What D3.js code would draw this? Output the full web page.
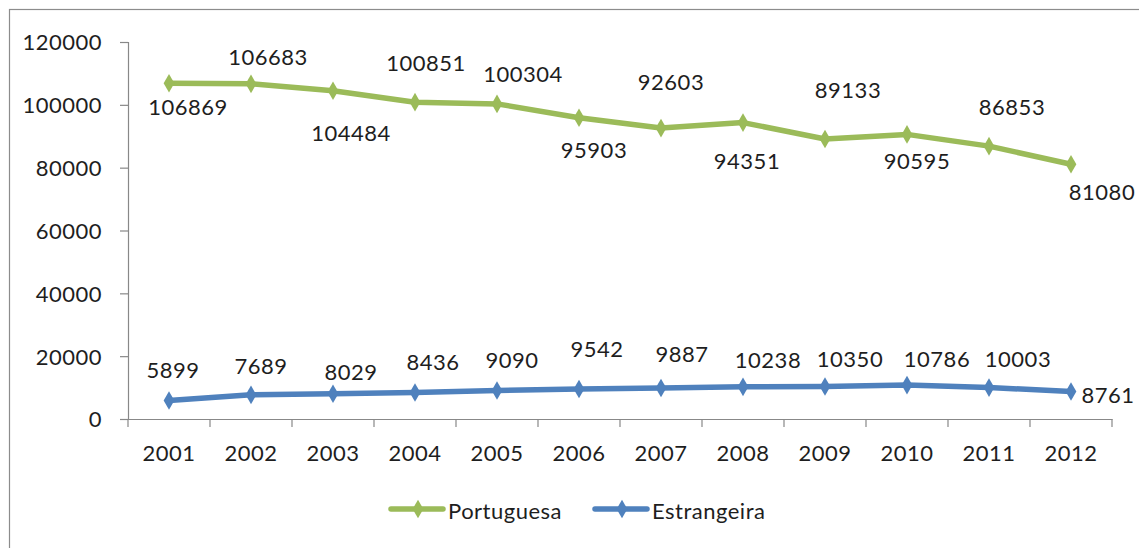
<!DOCTYPE html>
<html>
<head>
<meta charset="utf-8">
<script src="https://cdn.jsdelivr.net/npm/d3@7"></script>
<style>
  html, body { margin: 0; padding: 0; background: #fff; }
  svg { display: block; }
  text { font-family: Lato, "Open Sans", sans-serif; fill: #1e1e1e; letter-spacing: 0.5px; }
</style>
</head>
<body>
<svg id="chart" width="1139" height="548"></svg>
<script>
// ---- data ----
const years = ["2001","2002","2003","2004","2005","2006","2007","2008","2009","2010","2011","2012"];
const portuguesa = [106869,106683,104484,100851,100304,95903,92603,94351,89133,90595,86853,81080];
const estrangeira = [5899,7689,8029,8436,9090,9542,9887,10238,10350,10786,10003,8761];
const yTicks = [0,20000,40000,60000,80000,100000,120000];
const seriesNames = ["Portuguesa","Estrangeira"];

// ---- layout (label placement offsets, px) ----
const portLabelOffsets = [[19,24],[17,-27],[18,42],[11,-39],[26,-30],[15,32],[10,-46],[4,38],[23,-49],[10,27],[23,-39],[31,28]];
const estrLabelOffsets = [[4,-30],[10,-29],[18,-22],[18,-30],[15,-30],[18,-40],[21,-34],[25,-27],[25,-27],[30,-26],[29,-28],[37,4]];
const colors = ["#9BBB59","#4F81BD"];
const FS = 22;

const svg = d3.select("#chart");

// outer border
svg.append("rect").attr("x",9.5).attr("y",9.5).attr("width",1140).attr("height",545)
  .attr("fill","none").attr("stroke","#8c8c8c").attr("stroke-width",1.2);

const x = d3.scaleBand().domain(years).range([128,1112]).padding(0);
const y = d3.scaleLinear().domain([0,120000]).range([419,42]);
const cx = d => x(d) + x.bandwidth()/2;

// y axis
const yAxis = d3.axisLeft(y).tickValues(yTicks).tickSize(8).tickPadding(18).tickFormat(d3.format("d"));
const gy = svg.append("g").attr("transform","translate(128,0)").call(yAxis);
gy.select(".domain").attr("stroke","#888").attr("stroke-width",1.2);
gy.selectAll(".tick line").attr("stroke","#888").attr("stroke-width",1.2);
gy.selectAll(".tick text").attr("font-size",FS).attr("font-family","Lato, sans-serif").attr("fill","#1e1e1e").attr("dy","0.36em");

// x axis
const xAxis = d3.axisBottom(x).tickSize(0).tickPadding(0);
const gx = svg.append("g").attr("transform","translate(0,419)").call(xAxis);
gx.select(".domain").attr("stroke","#888").attr("stroke-width",1.2);
gx.selectAll(".tick text").attr("font-size",FS).attr("font-family","Lato, sans-serif").attr("fill","#1e1e1e")
  .attr("y",34).attr("dy","0.36em");
// category boundary ticks
const bounds = years.map(d => x(d)).concat([x(years[years.length-1]) + x.bandwidth()]);
gx.selectAll("line.bt").data(bounds).enter().append("line").attr("class","bt")
  .attr("x1",d=>d).attr("x2",d=>d).attr("y1",0).attr("y2",8)
  .attr("stroke","#888").attr("stroke-width",1.2);

const line = d3.line().x((d,i)=>cx(years[i])).y(d=>y(d));

function drawSeries(vals, color, offsets) {
  const g = svg.append("g");
  g.append("path").datum(vals).attr("d",line).attr("fill","none").attr("stroke",color)
    .attr("stroke-width",5.5).attr("stroke-linejoin","round").attr("stroke-linecap","round");
  g.selectAll("path.m").data(vals).enter().append("path").attr("class","m")
    .attr("d", d3.symbol().type(d3.symbolDiamond).size(100))
    .attr("transform",(d,i)=>`translate(${cx(years[i])},${y(d)})`)
    .attr("fill",color);
  g.selectAll("text").data(vals).enter().append("text")
    .attr("x",(d,i)=>cx(years[i]) + offsets[i][0])
    .attr("y",(d,i)=>y(d) + offsets[i][1])
    .attr("dy","0.36em").attr("text-anchor","middle").attr("font-size",FS)
    .text(d=>d);
}
drawSeries(portuguesa, colors[0], portLabelOffsets);
drawSeries(estrangeira, colors[1], estrLabelOffsets);

// legend
const legendItems = [{name:seriesNames[0],color:colors[0],x:391},{name:seriesNames[1],color:colors[1],x:595}];
const lg = svg.append("g");
legendItems.forEach(it => {
  lg.append("line").attr("x1",it.x).attr("x2",it.x+52).attr("y1",509).attr("y2",509)
    .attr("stroke",it.color).attr("stroke-width",5.5).attr("stroke-linecap","round");
  lg.append("path").attr("d", d3.symbol().type(d3.symbolDiamond).size(100))
    .attr("transform",`translate(${it.x+27},509)`).attr("fill",it.color);
  lg.append("text").attr("x",it.x+57).attr("y",511).attr("dy","0.36em").attr("font-size",FS).text(it.name);
});
</script>
</body>
</html>
